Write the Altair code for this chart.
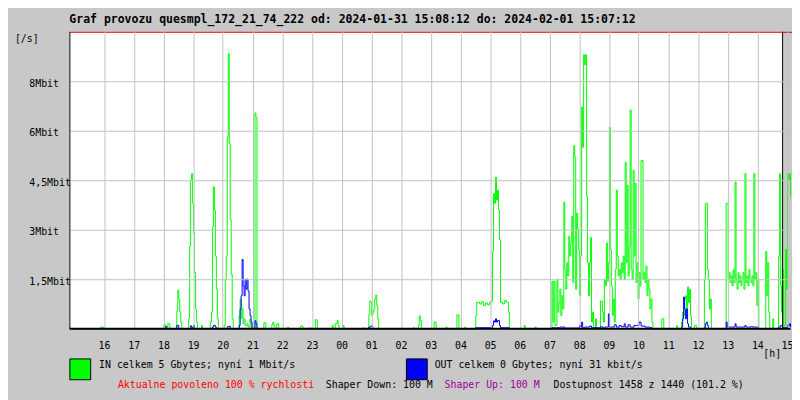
import altair as alt
import pandas as pd

# Time axis: minutes since 2024-01-31 14:50 (left edge of the graph); values in Mbit/s
in_minutes = (
    [0, 62, 68]
    + [190, 194, 198, 202]
    + [216, 218, 220, 222, 224, 226]
    + [240, 242, 244, 246, 248, 250, 252, 254, 256, 258]
    + [266, 268]
    + [284, 286, 288, 290, 292, 294, 296, 298, 300]
    + [312, 314, 316, 318, 320, 322, 324, 326, 328, 330]
    + [342, 344, 346, 348, 350, 352, 354, 358, 360, 364, 366, 368]
    + [374, 376, 378]
    + [392, 396, 408, 410, 412, 414, 418, 422]
    + [440, 442, 466, 470, 472, 484, 486, 496, 500]
    + [530, 532, 536, 540, 542, 544, 552, 554, 592, 594]
    + [604, 606, 608, 610, 612, 614, 616, 618, 620, 622, 624]
    + [694, 696, 704, 706, 708, 710, 736, 740, 760, 762, 782, 786, 798, 800]
    + [820, 822, 828, 832, 836, 840, 844, 848, 852]
    + [854, 856, 858, 860, 862, 864, 866, 868]
    + [870, 874, 878, 882, 886, 888, 918, 920, 940, 942]
    + [974, 976, 978, 980, 984, 986, 988, 990, 992, 994, 996]
    + [998, 1000, 1002, 1004, 1006, 1008, 1010, 1012, 1014, 1016]
    + [1018, 1020, 1022, 1024, 1026, 1028, 1030, 1032, 1034, 1036]
    + [1038, 1040, 1042, 1044, 1046, 1048, 1050, 1052, 1054, 1056, 1058]
    + [1062, 1064, 1072, 1076, 1078]
    + [1080, 1082, 1084, 1086, 1088, 1090, 1092, 1094, 1096, 1098, 1100]
    + [1102, 1104, 1106, 1108, 1110, 1112, 1114, 1116, 1118, 1120]
    + [1122, 1124, 1126, 1128, 1130, 1132, 1134, 1136, 1138, 1140]
    + [1142, 1144, 1146, 1148, 1150, 1152, 1154, 1156, 1158, 1160]
    + [1162, 1164, 1166, 1168, 1170, 1172, 1174, 1176, 1178]
    + [1196, 1200, 1226, 1228]
    + [1236, 1238, 1240, 1242, 1244, 1246, 1248, 1250, 1252, 1254, 1256]
    + [1262, 1266, 1282, 1284, 1286, 1288, 1290, 1292, 1294, 1296]
    + [1326, 1328, 1330, 1332, 1334, 1336, 1338, 1340, 1342, 1344]
    + [1346, 1348, 1350, 1352, 1354, 1356, 1358, 1360, 1362, 1364]
    + [1366, 1368, 1370, 1372, 1374, 1376, 1378, 1380, 1382, 1384]
    + [1386, 1388, 1390, 1392, 1406, 1408, 1410, 1412, 1414, 1420, 1422]
    + [1432, 1434, 1436, 1438, 1440, 1442, 1446, 1448, 1450, 1452, 1454, 1456]
)
in_mbit = (
    [0, 0.05, 0]
    + [0.12, 0.05, 0.15, 0]
    + [0.54, 1.17, 0.9, 0.5, 0.2, 0]
    + [0.3, 2.5, 4.5, 4.7, 3.8, 2.9, 1.7, 0.6, 0.2, 0]
    + [0.1, 0]
    + [0.2, 0.5, 3.1, 4.3, 3.6, 2.2, 1.2, 0.3, 0]
    + [0.1, 1.5, 2.2, 5.8, 8.34, 5.6, 3.3, 1.65, 0.3, 0]
    + [0.4, 0.9, 0.3, 0.6, 0.15, 0.3, 0.1, 0.15, 0.05, 0.3, 0.1, 0]
    + [6.54, 6.4, 0]
    + [0.18, 0, 0.12, 0.2, 0.1, 0, 0.15, 0]
    + [0.05, 0, 0.08, 0.05, 0, 0.03, 0, 0.27, 0]
    + [0.1, 0, 0.15, 0.25, 0.1, 0, 0.1, 0, 0.03, 0]
    + [0.42, 0.84, 0.8, 0.4, 0.5, 0.6, 0.9, 1.02, 0.7, 0.3, 0]
    + [0.03, 0, 0.1, 0.39, 0.25, 0, 0.2, 0, 0.05, 0, 0.42, 0, 0.05, 0]
    + [0.4, 0.8, 0.75, 0.82, 0.7, 0.78, 0.72, 0.8, 0.85]
    + [2.34, 4.1, 3.8, 4.59, 3.9, 4.2, 3.6, 2.7]
    + [0.8, 0.75, 0.85, 0.8, 0.5, 0, 0.1, 0, 0.05, 0]
    + [1.44, 0.2, 1.44, 0.1, 1.5, 0.5, 0.8, 1.2, 0.4, 1.0, 0.6]
    + [3.84, 1.8, 1.2, 2.0, 1.6, 2.8, 2.2, 2.6, 3.4, 1.4]
    + [5.55, 5.2, 1.2, 3.5, 3.0, 2.4, 1.0, 2.2, 6.72, 5.5]
    + [8.3, 8.0, 8.3, 4.0, 2.0, 1.0, 2.0, 2.76, 0.2, 0.5, 0]
    + [0.3, 0, 0.84, 0.5, 0.2]
    + [1.5, 1.3, 2.6, 1.44, 2.0, 6.1, 2.4, 1.3, 0.4, 0.9, 0.2]
    + [1.8, 4.2, 2.2, 1.6, 1.8, 1.5, 2.0, 1.7, 2.2, 1.5]
    + [5.04, 2.0, 4.35, 1.6, 2.5, 6.63, 1.8, 1.5, 4.8, 2.2]
    + [4.4, 1.4, 2.0, 0.9, 1.7, 1.3, 5.1, 5.1, 1.5, 1.7]
    + [1.4, 1.9, 1.0, 1.5, 1.2, 0.6, 0.9, 0.2, 0]
    + [0.3, 0, 0.1, 0]
    + [0.2, 0.5, 0.4, 0.9, 1.0, 0.6, 1.26, 0.8, 1.2, 0.4, 0]
    + [0.1, 0, 1.5, 3.8, 3.8, 1.8, 1.5, 0.6, 0.9, 0]
    + [3.8, 3.8, 1.5, 1.7, 1.4, 1.6, 1.3, 1.8, 1.4, 4.44]
    + [1.5, 1.2, 1.7, 1.4, 1.6, 1.3, 1.5, 1.7, 1.2, 4.7]
    + [1.4, 1.6, 1.3, 1.8, 1.5, 1.4, 1.6, 1.3, 4.7, 1.5]
    + [1.7, 0.7, 1.5, 0, 2.34, 1.0, 2.0, 0.5, 0, 0.3, 0]
    + [2.2, 4.7, 1.3, 0.5, 1.8, 0.1, 2.4, 1.2, 4.7, 4.5, 4.7, 4.0]
)

out_minutes = (
    [0, 192, 196, 216, 220, 244, 246, 250, 252]
    + [288, 290, 294, 296, 318, 322, 324]
    + [342, 344, 346, 348, 350, 352, 354, 356, 358, 360, 362, 364, 366, 368]
    + [374, 376, 378, 604, 608, 612]
    + [820, 854, 856, 858, 860, 862, 864, 868, 870, 888]
    + [974, 990, 1000, 1030, 1032, 1034, 1036, 1040, 1050, 1054]
    + [1072, 1076, 1080, 1088, 1090, 1100, 1104, 1110, 1114, 1120]
    + [1122, 1128, 1132, 1140, 1150, 1154, 1162, 1172, 1176]
    + [1236, 1238, 1240, 1242, 1244, 1246, 1248, 1250, 1254]
    + [1282, 1284, 1286, 1288, 1290]
    + [1326, 1328, 1344, 1346, 1364, 1366, 1376, 1380, 1386, 1390]
    + [1432, 1436, 1440, 1450, 1454, 1456]
)
out_mbit = (
    [0, 0.06, 0, 0.1, 0, 0.09, 0.04, 0.1, 0]
    + [0.05, 0.1, 0.05, 0, 0.06, 0.08, 0]
    + [0.1, 0.6, 1.0, 2.1, 1.3, 1.0, 1.5, 1.2, 1.5, 1.14, 0.6, 0.4, 0.2, 0]
    + [0.24, 0.15, 0, 0.05, 0.08, 0]
    + [0.03, 0.1, 0.24, 0.2, 0.3, 0.2, 0.25, 0.1, 0.03, 0]
    + [0.03, 0.05, 0.02, 0.1, 0.05, 0.2, 0.03, 0.05, 0.08, 0.03]
    + [0.06, 0.03, 0.05, 0.45, 0.05, 0.12, 0.05, 0.1, 0.06, 0.15]
    + [0.05, 0.12, 0.05, 0.1, 0.2, 0.08, 0.05, 0.03, 0]
    + [0.05, 0.3, 0.96, 0.6, 0.3, 0.6, 0.15, 0.05, 0]
    + [0.03, 0.15, 0.2, 0.1, 0]
    + [0.2, 0.05, 0.15, 0.05, 0.1, 0.05, 0.06, 0.05, 0.05, 0]
    + [0.05, 0.1, 0.03, 0.1, 0.15, 0.05]
)

assert len(in_minutes) == len(in_mbit)
assert len(out_minutes) == len(out_mbit)

x_tick_labels = ["16", "17", "18", "19", "20", "21", "22", "23", "00", "01", "02", "03",
                 "04", "05", "06", "07", "08", "09", "10", "11", "12", "13", "14", "15"]
x_tick_values = [70 + 60 * i for i in range(len(x_tick_labels))]
y_tick_values = [1.5, 3, 4.5, 6, 7.5]
y_tick_labels = ["1,5Mbit", "3Mbit", "4,5Mbit", "6Mbit", "8Mbit"]
beyond_span = [1440, 1456]  # part of the time range drawn past the graph frame

title_text = "Graf provozu quesmpl_172_21_74_222 od: 2024-01-31 15:08:12 do: 2024-02-01 15:07:12"
legend_in = "IN celkem 5 Gbytes; nyní 1 Mbit/s"
legend_out = "OUT celkem 0 Gbytes; nyní 31 kbit/s"
info_texts = [
    ("Aktualne povoleno 100 % rychlosti", "#ff0000", 49),
    ("Shaper Down: 100 M", "#000000", 259),
    ("Shaper Up: 100 M", "#a000a0", 379),
    ("Dostupnost 1458 z 1440 (101.2 %)", "#000000", 489),
]

FONT = "DejaVu Sans Mono"
BG = "#c8c8c8"
GRID = "#c0c0c0"

df_in = pd.DataFrame({"t": in_minutes, "v": in_mbit})
df_out = pd.DataFrame({"t": out_minutes, "v": out_mbit})
df_beyond = pd.DataFrame({"t": [beyond_span[0]], "t2": [beyond_span[1]]})
one = pd.DataFrame({"a": [0]})

x_label_expr = "[" + ",".join(f"'{s}'" for s in x_tick_labels) + "][round((datum.value-70)/60)]"
y_label_expr = "[" + ",".join(f"'{s}'" for s in y_tick_labels) + "][round(datum.value/1.5)-1]"

x_scale = alt.Scale(domain=[0, 1456], range=[0.5, 728.5], nice=False, zero=False)
y_scale = alt.Scale(domain=[0, 9], nice=False, zero=True)

x_axis = alt.Axis(
    values=x_tick_values, labelExpr=x_label_expr, title=None, grid=True,
    gridColor=GRID, gridOpacity=1, domainColor="#000000", domainWidth=2,
    ticks=False, tickSize=0, translate=0,
    labelPadding=17, labelBaseline="middle", labelFont=FONT, labelFontSize=10,
    labelColor="#000000", labelAngle=0, labelFlush=False, labelOverlap=False,
    labelBound=False, zindex=1,
)
y_axis = alt.Axis(
    values=y_tick_values, labelExpr=y_label_expr, title=None, grid=True,
    gridColor=GRID, gridOpacity=1, domainColor="#000000", ticks=False, tickSize=0,
    labelPadding=41, labelAlign="left", labelBaseline="middle", labelOffset=2,
    labelFont=FONT, labelFontSize=10, labelColor="#000000", labelFlush=False,
    labelOverlap=False, labelBound=False, zindex=1,
)

beyond = alt.Chart(df_beyond).mark_rect(color=BG).encode(
    x=alt.X("t:Q", scale=x_scale, axis=x_axis), x2="t2:Q",
    y=alt.value(0), y2=alt.value(300),
)

green = alt.Chart(df_in).mark_line(color="#00ff00", strokeWidth=1, interpolate="step-after").encode(
    x=alt.X("t:Q", scale=x_scale, axis=x_axis),
    y=alt.Y("v:Q", scale=y_scale, axis=y_axis),
)
blue = alt.Chart(df_out).mark_line(color="#0000ff", strokeWidth=1, interpolate="step-after").encode(
    x=alt.X("t:Q", scale=x_scale, axis=x_axis),
    y=alt.Y("v:Q", scale=y_scale, axis=y_axis),
)

top_rule = alt.Chart(one).mark_rule(color="#cc0000", strokeWidth=1).encode(
    x=alt.value(0), x2=alt.value(730), y=alt.value(0.5)
)
right_rule = alt.Chart(df_beyond).mark_rule(color="#000000", strokeWidth=1).encode(
    x=alt.X("t:Q", scale=x_scale, axis=x_axis), y=alt.value(0), y2=alt.value(300)
)


def txt(s, x, y, color="#000000", size=10, bold=False):
    return alt.Chart(one).mark_text(
        text=s, font=FONT, fontSize=size, fontWeight="bold" if bold else "normal",
        align="left", baseline="middle", color=color,
    ).encode(x=alt.value(x), y=alt.value(y))


def square(x, color):
    return alt.Chart(one).mark_rect(fill=color, stroke="#000000", strokeWidth=1).encode(
        x=alt.value(x + 0.5), x2=alt.value(x + 21.5), y=alt.value(330.5), y2=alt.value(351.5)
    )


layers = [
    beyond, green, blue, top_rule, right_rule,
    txt(title_text, 0, -12, size=11.6, bold=True),
    txt("[/s]", -55, 7),
    txt("[h]", 701, 326),
    square(0, "#00ff00"), txt(legend_in, 30, 337),
    square(340, "#0000ff"), txt(legend_out, 369, 337),
]
for s, c, x in info_texts:
    layers.append(txt(s, x, 357, color=c))

chart = alt.layer(*layers).properties(
    width=728, height=300,
    padding={"left": 62, "top": 22, "right": 2, "bottom": 70},
    autosize=alt.AutoSizeParams(type="none"),
    background=BG,
).configure_view(fill="#ffffff", stroke=None)

chart.save("out.html", embed_options={"renderer": "svg", "actions": False})
